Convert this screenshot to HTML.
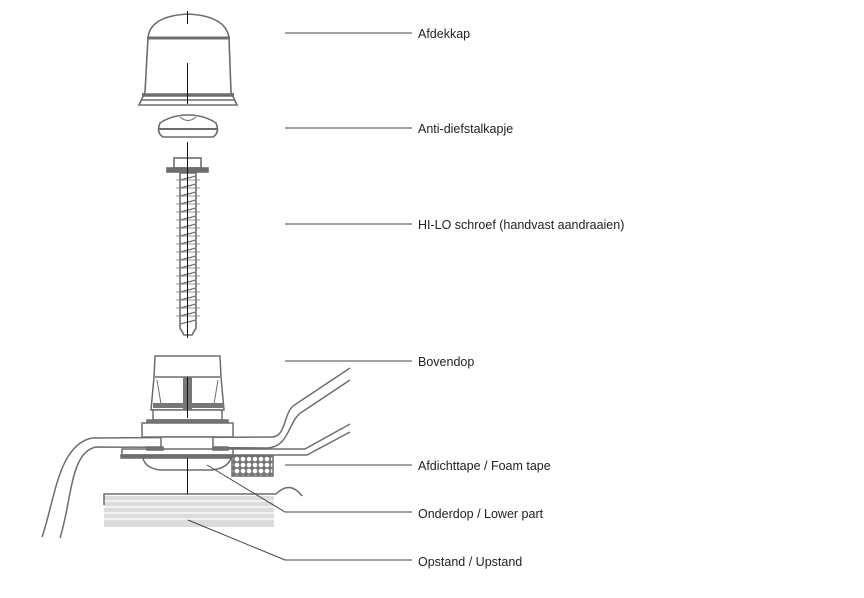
<!DOCTYPE html>
<html><head><style>
body{margin:0;background:#fff;width:864px;height:598px;overflow:hidden}
svg{position:absolute;left:0;top:0}
text{font-family:"Liberation Sans",sans-serif;font-size:12.5px;fill:#222}
</style></head><body>
<svg width="864" height="598" viewBox="0 0 864 598">
<defs>
<pattern id="hex" width="6" height="6" patternUnits="userSpaceOnUse">
<rect width="6" height="6" fill="#777"/>
<circle cx="3" cy="3" r="2.3" fill="#fff"/>
</pattern>
</defs>
<g stroke="#6d6d6d" stroke-width="1.6" fill="#fff">
<!-- Afdekkap -->
<path d="M148,38 Q150,16 188,14 Q226,16 229,38 L231,92 L237,105 L139,105 L145,92 Z"/>
<line x1="147" y1="38" x2="230" y2="38" stroke-width="3"/>
<line x1="142" y1="95" x2="234" y2="95" stroke-width="3.5"/>
<line x1="141" y1="100" x2="235" y2="100"/>
<!-- Anti-diefstal -->
<path d="M160,123 Q172,115 188,115 Q204,115 216,123 Q220,133 213,137 L163,137 Q156,133 160,123 Z"/>
<line x1="158" y1="129" x2="218" y2="129" stroke-width="2"/>
<path d="M180,117 Q188,124 196,117" fill="none" stroke-width="1"/>
<!-- screw -->
<rect x="174" y="158" width="27" height="10"/>
<rect x="167" y="168" width="41" height="4" fill="#6d6d6d"/>
<path d="M180,173 L196,173 L196,328 L192,335 L184,335 L180,328 Z"/>
</g>
<g stroke="#777" stroke-width="1.4">
<path d="M180,180 L196,176 M180,188 L196,184 M180,196 L196,192 M180,204 L196,200 M180,212 L196,208 M180,220 L196,216 M180,228 L196,224 M180,236 L196,232 M180,244 L196,240 M180,252 L196,248 M180,260 L196,256 M180,268 L196,264 M180,276 L196,272 M180,284 L196,280 M180,292 L196,288 M180,300 L196,296 M180,308 L196,304 M180,316 L196,312 M180,324 L196,320"/>
<path d="M176,180 L200,180 M176,188 L200,188 M176,196 L200,196 M176,204 L200,204 M176,212 L200,212 M176,220 L200,220 M176,228 L200,228 M176,236 L200,236 M176,244 L200,244 M176,252 L200,252 M176,260 L200,260 M176,268 L200,268 M176,276 L200,276 M176,284 L200,284 M176,292 L200,292 M176,300 L200,300 M176,308 L200,308 M176,316 L200,316" stroke-width="0.8"/>
</g>
<!-- upstand -->
<rect x="104" y="496" width="170" height="31" fill="#dcdcdc"/>
<g stroke="#fff" stroke-width="1.2"><line x1="104" y1="501" x2="274" y2="501"/><line x1="104" y1="507" x2="274" y2="507"/><line x1="104" y1="513" x2="274" y2="513"/><line x1="104" y1="519" x2="274" y2="519"/></g>
<g fill="none" stroke="#6d6d6d" stroke-width="1.5">
<path d="M104,505 L104,494 L276,494 Q290,480 302,496"/>
<!-- sheets -->
<path d="M42,537 C55,500 58,445 92,438 L272,437 C287,437 283,410 296,404 L350,368"/>
<path d="M60,538 C72,500 70,452 96,447 L266,448 C290,448 288,420 302,412 L350,380"/>
<path d="M215,449 L305,449 L350,424"/>
<path d="M215,455 L307,455 L350,432"/>
</g>
<g stroke="#6d6d6d" stroke-width="1.5" fill="#fff">
<!-- Bovendop -->
<path d="M155,356 L220,356 L221,377 L224,410 L151,410 L154,377 Z"/>
<line x1="155" y1="377" x2="220" y2="377"/>
<path d="M157,380 L161,404 M218,380 L214,404" stroke-width="1"/>
<rect x="183" y="377" width="9" height="33" fill="#777" stroke="none"/>
<rect x="153" y="403" width="70" height="5" fill="#777" stroke="none"/>
<rect x="153" y="410" width="69" height="10"/>
<rect x="147" y="420" width="81" height="3" fill="#777"/>
<rect x="142" y="423" width="91" height="14"/>
<rect x="161" y="437" width="52" height="13"/>
<rect x="122" y="449" width="111" height="6"/>
<rect x="147" y="447" width="16" height="3" fill="#777"/>
<rect x="213" y="447" width="15" height="3" fill="#777"/>
<rect x="121" y="455" width="112" height="3" fill="#6d6d6d"/>
<path d="M143,458 L231,458 Q228,468 212,470 L160,470 Q145,468 143,458 Z"/>
<rect x="232" y="456" width="41" height="20" fill="url(#hex)"/>
</g>
<!-- axis -->
<g stroke="#111" stroke-width="1">
<line x1="187.5" y1="11" x2="187.5" y2="24"/><line x1="187.5" y1="63" x2="187.5" y2="104"/>
<line x1="187.5" y1="142" x2="187.5" y2="338"/>
<line x1="187.5" y1="377" x2="187.5" y2="418"/>
<line x1="187.5" y1="458" x2="187.5" y2="494"/>
</g>
<!-- leaders -->
<g stroke="#444" stroke-width="1" fill="none">
<line x1="285" y1="33" x2="412" y2="33"/>
<line x1="285" y1="128" x2="412" y2="128"/>
<line x1="285" y1="224" x2="412" y2="224"/>
<line x1="285" y1="361" x2="412" y2="361"/>
<line x1="285" y1="465" x2="412" y2="465"/>
<path d="M207,465 L285,512 L412,512"/>
<path d="M188,520 L285,560 L412,560"/>
</g>
<text x="418" y="38">Afdekkap</text>
<text x="418" y="133">Anti-diefstalkapje</text>
<text x="418" y="229">HI-LO schroef (handvast aandraaien)</text>
<text x="418" y="366">Bovendop</text>
<text x="418" y="470">Afdichttape / Foam tape</text>
<text x="418" y="518">Onderdop / Lower part</text>
<text x="418" y="566">Opstand / Upstand</text>
</svg>
</body></html>
